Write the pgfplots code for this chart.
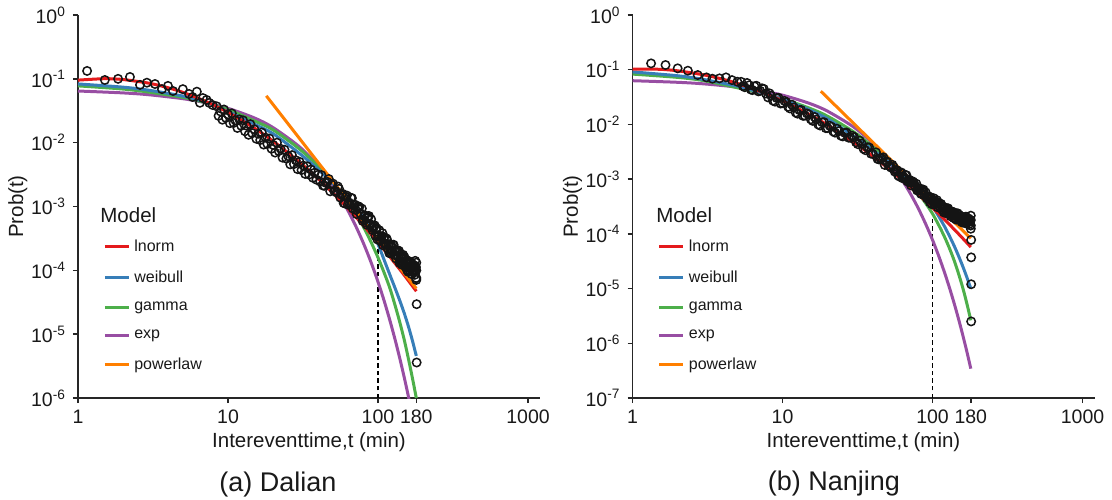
\documentclass[border=0pt]{standalone}
\usepackage{pgfplots}
\usepackage{pgfplotstable}
\pgfplotsset{compat=1.18}
\usepackage{fontspec}
\setmainfont{Liberation Sans}
\definecolor{cred}{HTML}{E41A1C}
\definecolor{cblue}{HTML}{377EB8}
\definecolor{cgreen}{HTML}{4DAF4A}
\definecolor{cpurple}{HTML}{984EA3}
\definecolor{corange}{HTML}{FF7F00}

\pgfplotstableread{
t p
1.15 0.133
1.51 0.096
1.85 0.100
2.22 0.107
2.59 0.0805
2.88 0.087
3.26 0.083
3.63 0.069
3.98 0.0776
4.3 0.0645
5.0 0.069
5.5 0.058
5.8 0.052
6.2 0.063
6.5 0.0422
6.8 0.050
7.2 0.0468
7.5 0.042
7.9 0.0389
8.4 0.0372
8.65 0.0263
8.9 0.0309
9.17 0.0229
9.4 0.0331
9.68 0.0245
10 0.0279
10.3 0.0202
10.6 0.0288
10.9 0.0204
11.2 0.0224
11.55 0.0170
11.9 0.0232
12.25 0.0184
12.6 0.0224
12.98 0.0151
13.3 0.0184
13.7 0.0133
14.1 0.0195
14.5 0.0141
15 0.0162
15.45 0.0115
15.9 0.0138
16.4 0.0110
16.8 0.01445
17.3 0.00933
17.8 0.0120
18.3 0.00955
18.9 0.0116
19.5 0.00804
20 0.00923
20.6 0.0070
21.2 0.0100
21.8 0.00741
22.4 0.00804
23.1 0.00582
23.8 0.00776
24.5 0.00562
25.2 0.00617
26.0 0.00457
26.7 0.00638
27.5 0.00462
28.3 0.00531
29.1 0.00385
30 0.00501
30.9 0.00372
31.8 0.00437
32.7 0.00324
33.7 0.00427
34.7 0.00316
35.7 0.00380
36.8 0.00282
37.8 0.00339
38.9 0.00263
40 0.00316
41.2 0.002455
42 3.10e-3
44 2.11e-3
46 2.43e-3
48 1.73e-3
50 2.29e-3
52 1.77e-3
54 2.06e-3
56 1.38e-3
58 1.585e-3
60 1.122e-3
62 1.486e-3
64 1.159e-3
66 1.368e-3
68 9.29e-4
70 1.072e-3
72 7.62e-4
74 1.009e-3
76 7.87e-4
78 9.29e-4
80 6.31e-4
82 7.28e-4
84 5.18e-4
86 6.85e-4
88 5.35e-4
90 6.31e-4
92 4.27e-4
94 4.90e-4
96 3.47e-4
98 4.57e-4
100 3.55e-4
102 4.25e-4
104 2.92e-4
106 3.42e-4
108 2.47e-4
110 3.31e-4
112 2.63e-4
114 3.16e-4
116 2.19e-4
118 2.57e-4
120 1.86e-4
122 2.55e-4
124 2.05e-4
126 2.50e-4
128 1.75e-4
130 2.09e-4
132 1.53e-4
134 2.08e-4
136 1.67e-4
138 2.02e-4
140 1.41e-4
142 1.675e-4
144 1.225e-4
146 1.67e-4
148 1.337e-4
150 1.62e-4
152 1.143e-4
154 1.368e-4
156 1.009e-4
158 1.387e-4
160 1.122e-4
162 1.38e-4
164 9.77e-5
166 1.175e-4
168 8.71e-5
170 1.202e-4
172 9.77e-5
174 1.202e-4
176 8.51e-5
178 1.023e-4
180 7.59e-5
180 1.318e-4
180 1.0e-4
180 7.08e-5
179 1.12e-4
177 1.41e-4
43 2.13e-3
47 2.70e-3
51 1.75e-3
55 1.89e-3
59 1.135e-3
63 1.067e-3
67 1.355e-3
71 8.83e-4
75 9.77e-4
79 5.94e-4
83 5.60e-4
87 7.11e-4
91 4.62e-4
95 5.07e-4
99 3.05e-4
103 2.93e-4
107 3.83e-4
111 2.57e-4
115 2.95e-4
119 1.86e-4
123 1.86e-4
127 2.52e-4
131 1.75e-4
135 2.04e-4
139 1.31e-4
143 1.31e-4
147 1.75e-4
151 1.21e-4
155 1.445e-4
159 9.46e-5
163 9.66e-5
167 1.33e-4
171 9.44e-5
175 1.135e-4
179 7.5e-5
45 2.34e-3
49 2.21e-3
53 1.66e-3
57 1.53e-3
61 1.43e-3
65 1.096e-3
69 1.03e-3
73 9.72e-4
77 7.45e-4
81 7.01e-4
85 6.61e-4
89 5.06e-4
93 4.73e-4
97 4.42e-4
101 3.38e-4
105 3.27e-4
109 3.17e-4
113 2.51e-4
117 2.455e-4
121 2.42e-4
125 1.97e-4
129 1.98e-4
133 1.98e-4
137 1.60e-4
141 1.59e-4
145 1.585e-4
149 1.28e-4
153 1.294e-4
157 1.31e-4
161 1.084e-4
165 1.109e-4
169 1.135e-4
173 9.44e-5
177 9.66e-5
181 2.95e-5
181 3.6e-6
}\dalian

\pgfplotstableread{
t p
1.33 0.1306
1.66 0.1219
2.0 0.1059
2.34 0.0959
2.72 0.080
3.11 0.0724
3.41 0.0685
3.8 0.0695
4.2 0.0724
4.6 0.0646
5.0 0.0603
5.3 6.01e-2
5.6 4.79e-2
6 5.20e-2
6.3 4.25e-2
6.7 5.09e-2
7.1 4.11e-2
7.5 4.46e-2
8 3.12e-2
8.4 3.34e-2
8.9 2.61e-2
9.4 3.07e-2
10 2.45e-2
10.6 2.57e-2
11.2 1.96e-2
11.9 2.05e-2
12.6 1.57e-2
13.3 1.84e-2
14.1 1.446e-2
15 1.524e-2
15.9 1.16e-2
16.8 1.226e-2
17.8 9.55e-3
18.9 1.098e-2
20 8.58e-3
21.2 9.08e-3
22.4 7.08e-3
23.8 7.53e-3
25.2 6.04e-3
26.7 7.14e-3
28.3 5.70e-3
30 5.89e-3
31.8 4.36e-3
33.7 4.46e-3
35.7 3.38e-3
37.8 3.80e-3
40 2.88e-3
5.45 5.01e-2
5.8 5.73e-2
6.15 4.34e-2
6.5 4.98e-2
6.9 4.02e-2
7.3 4.58e-2
7.75 3.67e-2
8.2 3.70e-2
8.65 2.72e-2
9.15 3.04e-2
9.7 2.41e-2
10.3 2.69e-2
10.9 2.10e-2
11.55 2.30e-2
12.25 1.65e-2
12.95 1.82e-2
13.7 1.436e-2
14.55 1.59e-2
15.45 1.24e-2
16.35 1.37e-2
17.3 9.98e-3
18.35 1.097e-2
19.45 8.54e-3
20.6 9.45e-3
21.8 7.43e-3
23.1 8.37e-3
24.5 6.23e-3
26.0 7.01e-3
27.5 5.74e-3
29.1 6.21e-3
30.9 4.73e-3
32.7 5.07e-3
34.7 3.58e-3
36.8 3.83e-3
38.9 2.92e-3
42 3.09e-3
44 2.29e-3
46 2.40e-3
48 1.82e-3
50 2.09e-3
52 1.72e-3
54 1.83e-3
56 1.374e-3
58 1.459e-3
60 1.122e-3
62 1.324e-3
64 1.107e-3
66 1.191e-3
68 9.08e-4
70 9.77e-4
72 7.66e-4
74 9.08e-4
76 7.62e-4
78 8.24e-4
80 6.31e-4
82 6.82e-4
84 5.35e-4
86 6.34e-4
88 5.32e-4
90 5.75e-4
92 4.43e-4
94 4.81e-4
96 3.78e-4
98 4.51e-4
100 4.07e-4
102 4.48e-4
104 3.50e-4
106 3.85e-4
108 3.07e-4
110 3.71e-4
112 3.19e-4
114 3.53e-4
116 2.76e-4
118 3.06e-4
120 2.45e-4
122 3.01e-4
124 2.60e-4
126 2.91e-4
128 2.30e-4
130 2.57e-4
132 2.09e-4
134 2.57e-4
136 2.24e-4
138 2.50e-4
140 1.99e-4
142 2.24e-4
144 1.82e-4
146 2.30e-4
148 2.00e-4
150 2.24e-4
152 1.79e-4
154 2.02e-4
156 1.65e-4
158 2.04e-4
160 1.78e-4
162 2.02e-4
164 1.62e-4
166 1.89e-4
168 1.55e-4
170 1.92e-4
172 1.68e-4
174 1.91e-4
176 1.53e-4
178 1.73e-4
180 1.42e-4
180 2.15e-4
180 1.24e-4
180 1.79e-4
43 2.34e-3
47 2.51e-3
51 1.75e-3
55 1.68e-3
59 1.167e-3
63 1.042e-3
67 1.18e-3
71 8.65e-4
75 8.61e-4
79 6.21e-4
83 5.64e-4
87 6.44e-4
91 4.76e-4
95 4.79e-4
99 3.48e-4
103 3.49e-4
107 4.13e-4
111 3.17e-4
115 3.31e-4
119 2.49e-4
123 2.41e-4
127 2.93e-4
131 2.31e-4
135 2.48e-4
139 1.93e-4
143 1.88e-4
147 2.38e-4
151 1.89e-4
155 2.05e-4
159 1.61e-4
163 1.60e-4
167 2.06e-4
171 1.66e-4
175 1.81e-4
179 1.44e-4
45 2.40e-3
49 2.09e-3
53 1.62e-3
57 1.45e-3
61 1.306e-3
65 1.047e-3
69 9.64e-4
73 8.93e-4
77 7.23e-4
81 6.71e-4
85 6.24e-4
89 5.05e-4
93 4.82e-4
97 4.65e-4
101 3.90e-4
105 3.76e-4
109 3.62e-4
113 3.06e-4
117 2.98e-4
121 2.91e-4
125 2.51e-4
129 2.49e-4
133 2.48e-4
137 2.16e-4
141 2.17e-4
145 2.19e-4
149 1.92e-4
153 1.95e-4
157 1.99e-4
161 1.77e-4
165 1.81e-4
169 1.85e-4
173 1.65e-4
177 1.69e-4
181 7.76e-5
181 3.72e-5
181 1.2e-5
181 2.51e-6
}\nanjing

\pgfplotsset{legend image code/.code={\draw[#1] (0pt,0pt) -- (12pt,0pt);}}

\begin{document}
\begin{tikzpicture}
\useasboundingbox (0pt,0pt) rectangle (556pt,-249.5pt);

% ---------------- Dalian ----------------
\begin{axis}[at={(39pt,-199pt)}, anchor=south west,
    scale only axis, width=231pt, height=191.5pt,
    xmode=log, ymode=log, xmin=1, xmax=1202, ymin=1e-6, ymax=1,
    axis x line*=bottom, axis y line*=left,
    axis line style={-, line width=0.7pt, black!85},
    tick align=outside, major tick length=2.5pt,
    tick style={line width=0.7pt, black!85},
    xminorticks=false, yminorticks=false,
    xtick={1,10,100,180,1000}, xticklabels={1,10,100,180,1000},
    ytick={1e-6,1e-5,1e-4,1e-3,1e-2,1e-1,1},
    yticklabels={10\textsuperscript{-6},10\textsuperscript{-5},10\textsuperscript{-4},10\textsuperscript{-3},10\textsuperscript{-2},10\textsuperscript{-1},10\textsuperscript{0}},
    tick label style={font=\fontsize{9.75}{11}\selectfont, text=black!90},
    xlabel={Intereventtime,t (min)}, ylabel={Prob(t)},
    label style={font=\fontsize{10.25}{12}\selectfont, text=black!90},
    xlabel style={at={(axis description cs:0.5,-0.115)}, anchor=center},
    ylabel style={at={(axis description cs:-0.13,0.5)}, anchor=center},
    legend cell align=left,
    legend style={at={(axis description cs:0.054,0.425)}, anchor=north west,
      draw=none, fill=none, inner sep=0pt, row sep=4.2pt,
      font=\fontsize{8}{9.6}\selectfont, text=black!90}]
\addlegendimage{cred, line width=1.5pt}\addlegendentry{lnorm}
\addlegendimage{cblue, line width=1.5pt}\addlegendentry{weibull}
\addlegendimage{cgreen, line width=1.5pt}\addlegendentry{gamma}
\addlegendimage{cpurple, line width=1.5pt}\addlegendentry{exp}
\addlegendimage{corange, line width=1.5pt}\addlegendentry{powerlaw}
\addplot[only marks, mark=o, mark size=2.1pt, color=black!92, mark options={line width=0.75pt}, forget plot] table[x=t,y=p] {\dalian};
\addplot[black, line width=0.7pt, dash pattern=on 2.2pt off 1.6pt, forget plot] coordinates {(100,1e-6) (100,3.02e-4)};
\addplot[cpurple, smooth, line width=1.5pt, forget plot] coordinates {(1,6.45e-2)(2,6.02e-2)(3,5.62e-2)(5,4.89e-2)(7,4.25e-2)(10,3.45e-2)(15,2.44e-2)(20,1.72e-2)(30,8.59e-3)(40,4.29e-3)(50,2.14e-3)(60,1.067e-3)(70,5.32e-4)(80,2.65e-4)(90,1.324e-4)(100,6.61e-5)(110,3.30e-5)(120,1.644e-5)(130,8.20e-6)(140,4.09e-6)(150,2.04e-6)(160,1.02e-6)(170,5.08e-7)(180,2.54e-7)};
\addplot[cgreen, smooth, line width=1.5pt, forget plot] coordinates {(1,7.76e-2)(2,6.92e-2)(3,6.17e-2)(5,5.13e-2)(7,4.27e-2)(10,3.31e-2)(15,2.19e-2)(20,1.585e-2)(30,7.94e-3)(40,4.27e-3)(50,2.40e-3)(56,1.70e-3)(63,1.20e-3)(70,8.32e-4)(80,4.79e-4)(90,2.75e-4)(100,1.585e-4)(110,9.12e-5)(120,5.25e-5)(130,2.82e-5)(140,1.51e-5)(150,7.94e-6)(160,3.98e-6)(170,2.0e-6)(180,1.0e-6)};
\addplot[cblue, smooth, line width=1.5pt, forget plot] coordinates {(1,8.32e-2)(2,7.41e-2)(3,6.61e-2)(5,5.37e-2)(7,4.37e-2)(10,3.09e-2)(15,1.95e-2)(20,1.38e-2)(30,6.76e-3)(40,3.80e-3)(50,2.29e-3)(56,1.74e-3)(63,1.32e-3)(70,1.0e-3)(80,6.61e-4)(90,4.17e-4)(100,2.57e-4)(110,1.445e-4)(120,8.51e-5)(130,5.25e-5)(140,3.31e-5)(150,2.09e-5)(160,1.29e-5)(170,7.76e-6)(180,4.57e-6)};
\addplot[cred, smooth, line width=1.5pt, forget plot] coordinates {(1,0.0955)(1.5,0.1005)(2,0.0975)(3,0.0851)(4,0.0724)(5,0.0614)(7,0.045)(10,0.02985)(15,0.01688)(20,0.01054)(30,0.00494)(40,0.002705)(50,0.00163)(60,0.001053)(70,0.000714)(80,0.000504)(100,0.000274)(120,0.0001628)(140,0.0001029)(160,6.83e-5)(180,4.71e-5)};
\addplot[corange, line width=1.5pt, forget plot] coordinates {(18,0.0542)(180,5.18e-5)};
\node[anchor=west, inner sep=0pt, font=\fontsize{10.25}{12}\selectfont, text=black!90] at (axis description cs:0.0476,0.478) {Model};
\end{axis}

% ---------------- Nanjing ----------------
\begin{axis}[at={(316.25pt,-199pt)}, anchor=south west,
    scale only axis, width=231pt, height=191.5pt,
    xmode=log, ymode=log, xmin=1, xmax=1202, ymin=1e-7, ymax=1,
    axis x line*=bottom, axis y line*=left,
    axis line style={-, line width=0.7pt, black!85},
    tick align=outside, major tick length=2.5pt,
    tick style={line width=0.7pt, black!85},
    xminorticks=false, yminorticks=false,
    xtick={1,10,100,180,1000}, xticklabels={1,10,100,180,1000},
    ytick={1e-7,1e-6,1e-5,1e-4,1e-3,1e-2,1e-1,1},
    yticklabels={10\textsuperscript{-7},10\textsuperscript{-6},10\textsuperscript{-5},10\textsuperscript{-4},10\textsuperscript{-3},10\textsuperscript{-2},10\textsuperscript{-1},10\textsuperscript{0}},
    tick label style={font=\fontsize{9.75}{11}\selectfont, text=black!90},
    xlabel={Intereventtime,t (min)}, ylabel={Prob(t)},
    label style={font=\fontsize{10.25}{12}\selectfont, text=black!90},
    xlabel style={at={(axis description cs:0.5,-0.115)}, anchor=center},
    ylabel style={at={(axis description cs:-0.13,0.5)}, anchor=center},
    legend cell align=left,
    legend style={at={(axis description cs:0.054,0.425)}, anchor=north west,
      draw=none, fill=none, inner sep=0pt, row sep=4.2pt,
      font=\fontsize{8}{9.6}\selectfont, text=black!90}]
\addlegendimage{cred, line width=1.5pt}\addlegendentry{lnorm}
\addlegendimage{cblue, line width=1.5pt}\addlegendentry{weibull}
\addlegendimage{cgreen, line width=1.5pt}\addlegendentry{gamma}
\addlegendimage{cpurple, line width=1.5pt}\addlegendentry{exp}
\addlegendimage{corange, line width=1.5pt}\addlegendentry{powerlaw}
\addplot[only marks, mark=o, mark size=2.1pt, color=black!92, mark options={line width=0.75pt}, forget plot] table[x=t,y=p] {\nanjing};
\addplot[black, line width=0.7pt, dash pattern=on 2.2pt off 1.6pt, forget plot] coordinates {(100,1e-7) (100,4.47e-4)};
\addplot[cpurple, smooth, line width=1.5pt, forget plot] coordinates {(1,0.0630)(2,0.0589)(3,0.0551)(5,0.0481)(7,0.0420)(10,0.0343)(15,0.02443)(20,0.01742)(30,8.85e-3)(40,4.50e-3)(50,2.29e-3)(60,1.16e-3)(70,5.90e-4)(80,3.00e-4)(90,1.52e-4)(100,7.74e-5)(110,3.94e-5)(120,2.0e-5)(130,1.016e-5)(140,5.16e-6)(150,2.62e-6)(160,1.33e-6)(170,6.78e-7)(180,3.44e-7)};
\addplot[cgreen, smooth, line width=1.5pt, forget plot] coordinates {(1,8.32e-2)(2,7.24e-2)(3,6.31e-2)(5,4.68e-2)(7,3.80e-2)(10,2.95e-2)(15,2.0e-2)(20,1.41e-2)(30,7.24e-3)(40,3.89e-3)(50,2.29e-3)(60,1.38e-3)(70,8.71e-4)(80,5.62e-4)(90,3.63e-4)(100,2.34e-4)(110,1.445e-4)(120,8.91e-5)(130,5.37e-5)(140,3.16e-5)(150,1.778e-5)(160,9.77e-6)(170,5.13e-6)(180,2.63e-6)};
\addplot[cblue, smooth, line width=1.5pt, forget plot] coordinates {(1,9.12e-2)(2,7.76e-2)(3,6.61e-2)(5,5.01e-2)(7,3.89e-2)(10,2.88e-2)(15,1.86e-2)(20,1.26e-2)(30,6.03e-3)(40,3.39e-3)(50,2.14e-3)(60,1.445e-3)(70,1.0e-3)(80,6.76e-4)(90,4.68e-4)(100,3.16e-4)(110,2.09e-4)(120,1.38e-4)(130,9.02e-5)(140,5.89e-5)(150,3.80e-5)(160,2.45e-5)(170,1.57e-5)(180,1.0e-5)};
\addplot[cred, smooth, line width=1.5pt, forget plot] coordinates {(1,0.1023)(1.5,0.1019)(2,0.0955)(3,8.04e-2)(4,6.70e-2)(5,5.62e-2)(7,4.08e-2)(10,2.70e-2)(15,1.537e-2)(20,9.71e-3)(30,4.68e-3)(40,2.63e-3)(50,1.62e-3)(60,1.071e-3)(70,7.42e-4)(80,5.34e-4)(100,3.00e-4)(120,1.84e-4)(140,1.195e-4)(160,8.14e-5)(180,5.74e-5)};
\addplot[corange, line width=1.5pt, forget plot] coordinates {(18,4.05e-2)(180,8.26e-5)};
\node[anchor=west, inner sep=0pt, font=\fontsize{10.25}{12}\selectfont, text=black!90] at (axis description cs:0.0506,0.478) {Model};
\end{axis}

\node[font=\fontsize{13.5}{16}\selectfont, text=black!90] at (139pt,-242pt) {(a) Dalian};
\node[font=\fontsize{13.5}{16}\selectfont, text=black!90] at (417pt,-242pt) {(b) Nanjing};
\end{tikzpicture}
\end{document}
